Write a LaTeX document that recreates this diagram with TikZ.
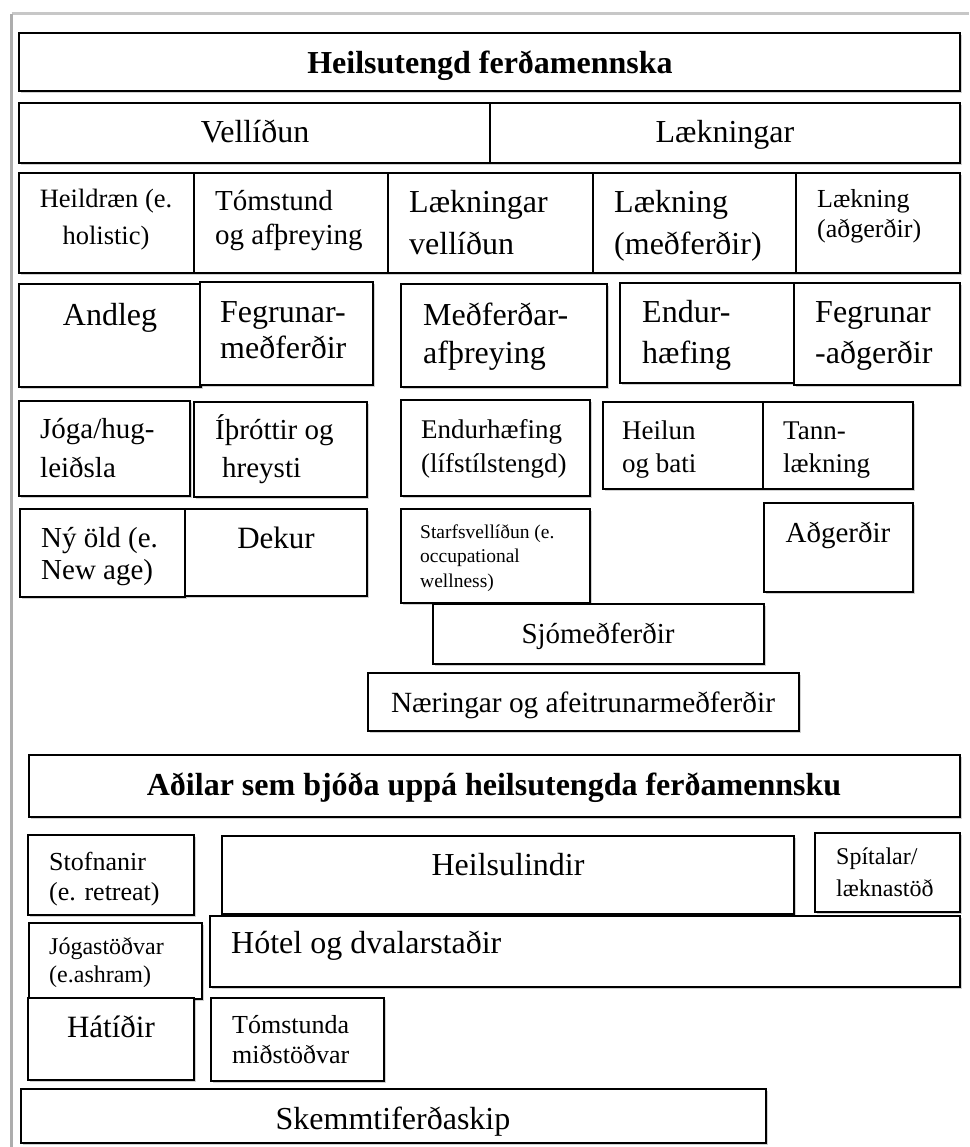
\documentclass[tikz,border=0pt]{standalone}
\usepackage{fontspec}
\setmainfont{Liberation Serif}
\usetikzlibrary{shadows}
\newcommand{\fsz}[1]{\fontsize{#1}{#1}\selectfont}
\newcommand{\twoline}[3]{\vtop{\baselineskip=#1pt\lineskiplimit=-100pt\lineskip=0pt\hbox{#2}\hbox{#3}}}
\newcommand{\threeline}[4]{\vtop{\baselineskip=#1pt\lineskiplimit=-100pt\lineskip=0pt\hbox{#2}\hbox{#3}\hbox{#4}}}
\newcommand{\bx}[5]{\node[box, minimum width={(#4-#2)*1pt}, minimum height={(#5-#3)*1pt}] (#1) at (#2,#3) {};}
\tikzset{
  box/.style={draw=black, line width=2pt, fill=white, inner sep=0pt, outer sep=0pt, anchor=north west,
    drop shadow={shadow xshift=2pt, shadow yshift=-2pt, opacity=0.18, fill=black}},
  txt/.style={inner sep=0pt, anchor=base west},
  ctxt/.style={inner sep=0pt, anchor=base},
  frameline/.style={line width=3pt}
}
\begin{document}
\begin{tikzpicture}[x=1pt,y=-1pt]
\path[fill=white] (0,0) rectangle (969,1147);
\useasboundingbox (0,0) rectangle (969,1147);
\coordinate (ftl) at (11.5,14);
\coordinate (ftr) at (969,14);
\coordinate (fbl) at (11.5,1147);
\draw[frameline, draw=black!22] (ftl) -- (ftr);
\draw[frameline, draw=black!32] (ftl) -- (fbl);

% top section
\bx{title}{19}{33}{960}{91}
\node[ctxt, font={\fsz{32}\bfseries}] (ttitle) at (490,74) {Heilsutengd ferðamennska};
\bx{vell}{19}{103}{490}{163}
\node[ctxt, font={\fsz{32}}] (tvell) at (255,143) {Vellíðun};
\bx{laek}{490}{103}{960}{163}
\node[ctxt, font={\fsz{32}}] (tlaek) at (725,143) {Lækningar};

% row 3
\bx{heild}{19}{173}{194}{273}
\node[ctxt, font={\fsz{26.5}}] (theild) at (106,208) {\twoline{37}{\hbox to 170pt{\hfil Heildræn (e.\hfil}}{\hbox to 170pt{\hfil holistic)\hfil}}};
\bx{tomst}{194}{173}{388}{273}
\node[txt, font={\fsz{29}}] (ttomst) at (215,211) {\twoline{34}{Tómstund}{og afþreying}};
\bx{laekv}{388}{173}{593}{273}
\node[txt, font={\fsz{32}}] (tlaekv) at (409,213) {\twoline{42}{Lækningar}{vellíðun}};
\bx{laekm}{593}{173}{796}{273}
\node[txt, font={\fsz{32}}] (tlaekm) at (614,213) {\twoline{42}{Lækning}{(meðferðir)}};
\bx{laeka}{796}{173}{960}{273}
\node[txt, font={\fsz{26}}] (tlaeka) at (817,208) {\twoline{30}{Lækning}{(aðgerðir)}};

% row 4
\bx{andleg}{19}{284}{201}{387}
\node[ctxt, font={\fsz{32}}] (tandleg) at (110,325) {Andleg};
\bx{fegm}{200}{282}{373}{385}
\node[txt, font={\fsz{32}}] (tfegm) at (220,322) {\twoline{36}{Fegrunar-}{meðferðir}};
\bx{medaf}{401}{284}{607}{387}
\node[txt, font={\fsz{32}}] (tmedaf) at (423,325) {\twoline{38}{Meðferðar-}{afþreying}};
\bx{endh}{620}{283}{794}{383}
\node[txt, font={\fsz{32}}] (tendh) at (642,322) {\twoline{41}{Endur-}{hæfing}};
\bx{fega}{794}{283}{960}{385}
\node[txt, font={\fsz{32}}] (tfega) at (815,322) {\twoline{41}{Fegrunar}{-aðgerðir}};

% row 5
\bx{joga}{19}{401}{190}{496}
\node[txt, font={\fsz{29}}] (tjoga) at (40,438) {\twoline{39}{Jóga/hug-}{leiðsla}};
\bx{ithr}{194}{402}{367}{497}
\node[txt, font={\fsz{29}}] (tithr) at (215,439) {\twoline{38}{Íþróttir og}{\hspace{7pt}hreysti}};
\bx{endl}{401}{400}{590}{496}
\node[txt, font={\fsz{27}}] (tendl) at (421,438) {\twoline{34}{Endurhæfing}{(lífstílstengd)}};
\bx{heil}{603}{402}{763}{489}
\node[txt, font={\fsz{27}}] (theil) at (622,439) {\twoline{33}{Heilun}{og bati}};
\bx{tann}{763}{402}{913}{489}
\node[txt, font={\fsz{27}}] (ttann) at (783,439) {\twoline{33}{Tann-}{lækning}};

% row 6
\bx{nyold}{20}{509}{185}{597}
\node[txt, font={\fsz{29}}] (tnyold) at (41,547) {\twoline{32}{Ný öld (e.}{New age)}};
\bx{dekur}{185}{509}{367}{596}
\node[ctxt, font={\fsz{31}}] (tdekur) at (276,548) {Dekur};
\bx{starf}{401}{509}{590}{603}
\node[txt, font={\fsz{19.5}}] (tstarf) at (420,538) {\threeline{24.5}{Starfsvellíðun (e.}{occupational}{wellness)}};
\bx{adg}{764}{503}{913}{592}
\node[ctxt, font={\fsz{29}}] (tadg) at (838,542) {Aðgerðir};

\bx{sjo}{433}{604}{764}{664}
\node[ctxt, font={\fsz{29}}] (tsjo) at (598,643) {Sjómeðferðir};
\bx{naer}{368}{673}{799}{731}
\node[ctxt, font={\fsz{29.3}}] (tnaer) at (583,712) {Næringar og afeitrunarmeðferðir};

% lower section
\bx{adil}{29}{755}{960}{817}
\node[ctxt, font={\fsz{32}\bfseries}] (tadil) at (494,795) {Aðilar sem bjóða uppá heilsutengda ferðamennsku};

\bx{stofn}{28}{835}{194}{915}
\node[txt, font={\fsz{26}}] (tstofn) at (49,870) {\twoline{30}{Stofnanir}{(e. retreat)}};
\bx{heilsul}{222}{836}{794}{914}
\node[ctxt, font={\fsz{32}}] (theilsul) at (508,875) {Heilsulindir};
\bx{spit}{815}{833}{960}{912}
\node[txt, font={\fsz{24}}] (tspit) at (836,864) {\twoline{32}{Spítalar/}{læknastöð}};
\bx{jogast}{29}{923}{202}{999}
\node[txt, font={\fsz{24}}] (tjogast) at (49,954) {\twoline{28}{Jógastöðvar}{(e.ashram)}};
\bx{hotel}{210}{916}{960}{987}
\node[txt, font={\fsz{32}}] (thotel) at (231,953) {Hótel og dvalarstaðir};
\bx{hatid}{28}{998}{194}{1080}
\node[ctxt, font={\fsz{31}}] (thatid) at (111,1037) {Hátíðir};
\bx{tomm}{211}{998}{384}{1081}
\node[txt, font={\fsz{26}}] (ttomm) at (232,1033) {\twoline{30}{Tómstunda}{miðstöðvar}};
\bx{skemmt}{21}{1089}{766}{1143}
\node[ctxt, font={\fsz{32}}] (tskemmt) at (393,1129) {Skemmtiferðaskip};
\end{tikzpicture}
\end{document}
